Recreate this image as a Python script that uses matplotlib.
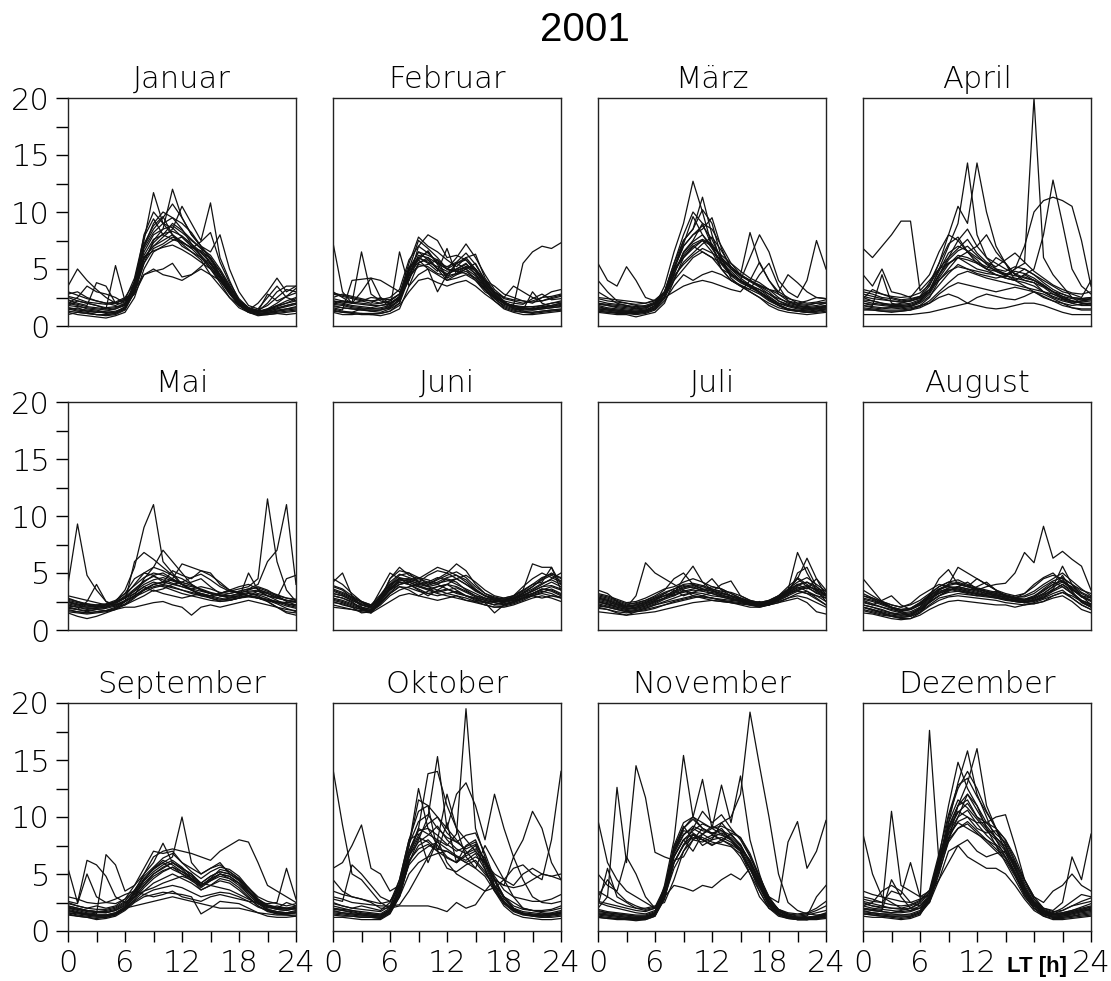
import numpy as np
import matplotlib
matplotlib.use("Agg")
import matplotlib.pyplot as plt

hours = list(range(25))
month_names = ["Januar", "Februar", "März", "April", "Mai", "Juni",
               "Juli", "August", "September", "Oktober", "November", "Dezember"]

jan = [
    [2.0, 1.8, 1.5, 1.4, 1.2, 1.3, 1.6, 3.5, 6.5, 8.0, 8.5, 8.8, 8.2, 7.5, 6.8, 5.5, 4.2, 3.0, 2.0, 1.4, 1.2, 1.3, 1.5, 1.8, 2.0],
    [1.5, 1.3, 1.2, 1.0, 1.0, 1.1, 1.5, 4.0, 7.5, 11.7, 9.0, 8.0, 7.2, 6.5, 6.0, 5.0, 3.8, 2.5, 1.6, 1.2, 1.0, 1.1, 1.3, 1.4, 1.5],
    [3.5, 5.0, 4.0, 3.2, 2.5, 2.0, 2.4, 3.0, 5.5, 7.5, 8.5, 12.0, 9.5, 8.0, 7.0, 6.0, 4.5, 3.0, 2.0, 1.5, 1.3, 2.0, 3.0, 3.5, 3.5],
    [2.5, 2.2, 2.0, 1.8, 1.5, 5.3, 2.2, 3.2, 6.0, 7.0, 7.8, 8.5, 10.5, 9.0, 7.5, 10.8, 6.0, 4.0, 2.2, 1.5, 1.2, 1.4, 1.8, 2.2, 2.5],
    [1.2, 1.0, 0.9, 0.8, 0.7, 0.9, 1.2, 2.5, 5.0, 6.5, 7.0, 7.5, 7.8, 7.0, 6.2, 5.2, 4.0, 2.8, 1.8, 1.2, 1.0, 1.0, 1.1, 1.2, 1.3],
    [2.0, 2.5, 3.5, 3.0, 2.8, 2.5, 2.0, 2.8, 4.5, 4.8, 5.0, 5.5, 4.3, 4.5, 5.0, 4.5, 4.0, 3.0, 2.0, 1.5, 1.3, 1.4, 1.6, 1.8, 2.0],
    [1.8, 2.2, 2.0, 1.8, 1.6, 1.7, 1.8, 3.0, 7.0, 9.0, 10.0, 9.5, 9.0, 8.2, 7.0, 6.5, 8.0, 5.0, 3.0, 1.8, 1.5, 2.5, 3.5, 2.5, 2.2],
    [1.6, 1.5, 1.4, 1.3, 1.1, 1.2, 1.7, 3.8, 7.0, 8.5, 9.5, 10.7, 9.5, 8.0, 7.0, 5.8, 4.5, 3.2, 2.0, 1.3, 1.1, 1.2, 1.4, 1.5, 1.6],
    [2.8, 3.0, 2.5, 2.2, 2.0, 1.8, 2.2, 3.5, 6.0, 7.0, 7.5, 8.0, 7.0, 6.5, 5.8, 4.5, 3.5, 2.5, 1.8, 1.4, 2.0, 3.0, 4.2, 3.0, 3.5],
    [1.0, 1.2, 1.1, 1.0, 0.9, 1.0, 1.4, 3.0, 5.5, 6.8, 7.2, 7.8, 7.4, 6.8, 6.0, 5.2, 4.2, 3.0, 1.8, 1.2, 0.9, 1.0, 1.1, 1.0, 1.1],
    [2.3, 2.0, 1.8, 3.8, 3.5, 2.0, 1.9, 3.6, 8.0, 10.0, 9.0, 9.5, 8.5, 7.2, 6.5, 5.5, 4.5, 3.4, 2.3, 1.6, 1.4, 1.8, 2.5, 3.2, 3.0],
    [1.4, 1.6, 1.3, 1.2, 1.3, 1.5, 1.8, 3.2, 4.5, 5.0, 4.5, 4.3, 4.0, 4.5, 5.2, 6.0, 4.8, 3.5, 2.2, 1.6, 1.3, 1.5, 1.8, 2.0, 2.2],
    [1.8, 1.7, 1.6, 1.5, 1.4, 1.5, 1.9, 3.4, 6.8, 8.2, 9.0, 8.6, 7.8, 7.0, 6.4, 5.6, 4.4, 3.1, 1.9, 1.3, 1.2, 1.4, 1.7, 2.0, 2.4],
    [2.6, 2.4, 2.1, 2.0, 1.9, 2.0, 2.3, 4.2, 7.8, 9.4, 8.0, 7.6, 7.3, 6.9, 6.6, 5.9, 4.8, 3.3, 2.1, 1.5, 1.3, 2.8, 2.2, 2.6, 2.9],
    [1.3, 1.2, 1.1, 1.0, 1.0, 1.1, 1.5, 3.0, 6.2, 7.6, 8.0, 9.0, 8.4, 7.6, 6.8, 6.2, 5.0, 3.6, 2.2, 1.4, 1.1, 1.1, 1.2, 1.3, 1.4],
    [3.0, 2.7, 2.4, 2.2, 2.0, 2.1, 2.5, 3.8, 6.0, 6.6, 6.9, 7.1, 6.7, 6.2, 5.6, 5.0, 4.0, 2.9, 1.9, 1.4, 1.2, 1.5, 2.0, 2.6, 3.3],
    [2.1, 1.9, 1.7, 1.6, 1.5, 1.6, 2.0, 3.6, 7.2, 8.8, 9.6, 8.0, 7.4, 6.8, 7.4, 8.2, 5.6, 3.8, 2.4, 1.6, 1.3, 1.3, 1.5, 1.7, 1.9],
    [1.6, 1.4, 1.3, 1.2, 1.2, 1.2, 1.6, 2.9, 5.8, 7.3, 8.1, 8.3, 7.9, 7.2, 6.1, 5.4, 4.3, 3.0, 1.9, 1.3, 1.1, 1.2, 1.3, 1.5, 1.7],
]

feb = [
    [7.3, 3.0, 2.0, 2.2, 2.0, 2.5, 2.0, 2.5, 4.5, 6.0, 6.5, 5.5, 5.0, 5.5, 5.0, 4.0, 3.0, 2.5, 2.0, 1.8, 1.5, 1.6, 1.8, 2.0, 2.2],
    [2.0, 2.2, 2.0, 6.5, 2.8, 2.2, 2.0, 2.4, 4.0, 7.0, 8.0, 7.5, 6.0, 6.2, 5.8, 5.0, 3.5, 2.5, 2.0, 1.8, 1.6, 1.5, 1.7, 1.8, 2.0],
    [1.5, 1.3, 1.2, 1.5, 1.3, 1.2, 1.5, 6.5, 3.5, 5.5, 6.0, 5.0, 4.5, 5.5, 6.0, 5.0, 4.0, 3.0, 2.2, 1.5, 1.3, 1.2, 1.3, 1.4, 1.5],
    [2.5, 2.8, 2.6, 2.4, 2.2, 2.0, 2.2, 2.8, 5.0, 7.5, 6.8, 6.0, 5.0, 6.0, 7.2, 6.0, 4.5, 3.2, 2.5, 3.5, 3.0, 2.5, 2.2, 2.4, 2.6],
    [1.2, 1.0, 1.0, 1.1, 1.0, 0.9, 1.1, 1.5, 3.5, 4.5, 5.0, 4.5, 4.0, 4.2, 4.5, 4.0, 3.2, 2.2, 1.5, 1.2, 1.0, 1.0, 1.1, 1.2, 1.3],
    [3.0, 2.5, 2.0, 3.0, 4.2, 4.0, 3.5, 3.0, 4.0, 6.0, 5.5, 4.8, 6.8, 4.5, 5.0, 5.5, 4.0, 3.5, 2.8, 2.5, 2.2, 2.0, 2.5, 3.0, 3.2],
    [1.8, 1.6, 1.5, 1.4, 1.3, 1.4, 1.6, 2.2, 4.5, 6.2, 6.0, 5.5, 5.0, 4.8, 5.2, 5.0, 3.8, 2.8, 2.0, 1.6, 1.5, 1.4, 1.5, 1.6, 1.7],
    [2.2, 2.0, 1.8, 1.7, 1.6, 1.8, 1.9, 2.5, 5.2, 5.8, 5.0, 3.0, 4.5, 5.0, 5.5, 4.5, 3.5, 2.6, 2.0, 1.8, 5.5, 6.5, 7.0, 6.8, 7.3],
    [1.4, 1.2, 1.1, 1.0, 1.0, 1.1, 1.3, 1.8, 3.0, 4.0, 4.2, 3.8, 3.5, 3.8, 4.0, 3.5, 2.8, 2.2, 1.6, 1.3, 1.2, 1.1, 1.2, 1.3, 1.4],
    [2.8, 2.6, 2.4, 2.2, 2.5, 2.4, 2.3, 2.8, 5.5, 7.8, 7.0, 6.5, 5.8, 5.2, 6.0, 6.3, 4.2, 3.0, 2.4, 2.2, 2.0, 2.2, 2.5, 2.6, 2.8],
    [1.6, 1.4, 4.0, 4.1, 4.2, 2.5, 1.5, 2.0, 5.0, 6.5, 5.8, 5.0, 4.0, 4.5, 4.8, 4.2, 3.2, 2.4, 1.8, 1.5, 1.4, 3.0, 2.0, 1.7, 1.8],
    [2.0, 1.9, 1.7, 1.6, 1.5, 1.5, 1.7, 2.3, 4.8, 6.5, 6.2, 5.8, 4.2, 5.5, 5.8, 4.8, 3.7, 2.9, 2.1, 1.7, 1.6, 1.5, 1.6, 1.8, 2.0],
    [1.9, 1.8, 1.6, 1.5, 1.5, 1.6, 1.8, 2.6, 5.0, 6.0, 5.6, 5.2, 4.8, 5.0, 5.4, 4.8, 3.6, 2.7, 2.0, 1.7, 1.6, 1.5, 1.6, 1.7, 1.9],
    [2.4, 2.2, 2.1, 2.0, 1.9, 2.0, 2.2, 2.8, 4.6, 5.6, 5.8, 5.0, 4.6, 4.9, 5.2, 4.6, 3.4, 2.6, 2.2, 2.0, 1.9, 2.4, 2.8, 2.3, 2.4],
    [1.3, 1.2, 1.2, 1.1, 1.1, 1.1, 1.3, 2.0, 4.2, 5.4, 5.2, 4.6, 4.4, 4.6, 5.0, 4.4, 3.3, 2.4, 1.7, 1.4, 1.2, 1.2, 1.3, 1.4, 1.4],
    [2.9, 2.7, 2.5, 2.3, 2.2, 2.3, 2.5, 3.2, 5.8, 7.0, 6.4, 5.6, 5.2, 5.6, 6.4, 5.4, 4.0, 3.0, 2.5, 2.3, 2.2, 2.1, 2.2, 2.5, 2.7],
    [1.7, 1.6, 1.5, 1.4, 1.4, 1.4, 1.6, 2.4, 4.8, 5.8, 6.6, 5.4, 4.2, 4.6, 5.2, 5.0, 3.9, 2.8, 1.9, 1.6, 1.4, 1.4, 1.5, 1.6, 1.7],
    [2.2, 2.1, 2.0, 1.9, 1.8, 1.8, 2.0, 2.6, 4.4, 5.2, 5.4, 5.8, 5.0, 4.8, 4.6, 4.2, 3.2, 2.5, 2.0, 1.8, 1.7, 1.7, 1.8, 2.0, 2.1],
]

mar = [
    [1.5, 1.4, 1.3, 1.2, 1.2, 1.3, 1.8, 3.5, 6.5, 9.0, 12.7, 10.0, 7.0, 5.0, 4.0, 3.5, 3.0, 2.5, 2.0, 1.6, 1.4, 1.3, 1.4, 1.5, 1.6],
    [5.5, 4.0, 3.5, 5.2, 4.0, 2.5, 2.2, 3.0, 5.0, 7.5, 8.5, 11.3, 8.0, 5.5, 4.5, 4.0, 3.5, 3.0, 2.5, 2.0, 1.8, 1.6, 1.5, 1.6, 1.8],
    [1.2, 1.1, 1.0, 1.0, 0.8, 1.0, 1.2, 2.0, 4.0, 6.0, 7.0, 7.5, 6.5, 5.0, 4.0, 3.5, 3.0, 2.5, 1.8, 1.4, 1.2, 1.1, 1.0, 1.1, 1.2],
    [2.0, 1.8, 1.6, 1.5, 1.4, 1.5, 2.0, 3.0, 5.5, 8.0, 10.0, 9.0, 7.0, 6.0, 5.0, 4.5, 8.2, 5.5, 4.0, 3.0, 2.5, 2.0, 2.2, 2.5, 2.4],
    [3.0, 2.5, 2.0, 1.8, 1.5, 1.6, 2.0, 2.5, 4.0, 5.0, 6.0, 6.5, 6.0, 5.0, 4.5, 4.0, 6.0, 8.0, 6.5, 4.0, 3.0, 2.5, 4.0, 7.5, 5.0],
    [1.8, 1.6, 1.5, 1.4, 1.3, 1.4, 1.7, 2.5, 4.5, 6.5, 7.5, 9.0, 8.5, 7.0, 5.5, 4.5, 4.0, 3.5, 3.0, 2.2, 1.8, 1.6, 1.5, 1.6, 1.7],
    [1.3, 1.2, 1.1, 1.1, 1.0, 1.1, 1.4, 2.2, 3.5, 4.5, 4.0, 4.5, 4.8, 4.5, 4.0, 3.6, 3.2, 2.8, 2.2, 1.8, 1.5, 1.3, 1.2, 1.3, 1.4],
    [2.5, 2.4, 2.3, 2.2, 2.1, 2.0, 2.2, 2.5, 3.0, 3.5, 3.8, 4.0, 3.8, 3.5, 3.2, 3.0, 4.0, 3.5, 3.2, 3.0, 4.5, 3.8, 3.0, 2.5, 2.4],
    [1.7, 1.5, 1.4, 1.3, 1.2, 1.3, 1.6, 3.0, 5.5, 7.5, 8.5, 10.2, 9.0, 6.0, 4.2, 3.5, 3.2, 4.5, 5.5, 3.5, 2.2, 1.8, 1.6, 1.5, 1.7],
    [4.0, 3.0, 2.2, 2.0, 1.8, 1.7, 2.0, 2.8, 5.0, 6.0, 6.8, 7.5, 7.0, 6.2, 5.5, 4.8, 4.2, 3.8, 3.2, 2.5, 2.0, 1.8, 1.7, 1.8, 2.0],
    [1.4, 1.3, 1.2, 1.2, 1.1, 1.2, 1.5, 2.5, 5.0, 7.0, 8.0, 8.5, 9.5, 6.8, 5.0, 4.2, 3.6, 3.0, 2.4, 1.9, 1.5, 1.3, 1.2, 1.3, 1.5],
    [2.2, 2.0, 1.9, 1.8, 1.7, 1.8, 2.1, 2.8, 4.8, 6.0, 7.0, 6.5, 6.0, 5.5, 4.8, 4.0, 3.5, 3.2, 2.8, 2.4, 2.1, 1.9, 1.8, 2.0, 2.1],
    [1.6, 1.5, 1.4, 1.3, 1.3, 1.4, 1.8, 2.8, 5.0, 7.0, 8.0, 8.8, 7.6, 5.8, 4.6, 4.0, 3.6, 3.2, 2.6, 2.0, 1.7, 1.5, 1.4, 1.5, 1.6],
    [1.9, 1.8, 1.7, 1.6, 1.5, 1.6, 1.9, 2.6, 4.2, 5.6, 6.4, 7.2, 7.8, 6.6, 5.2, 4.4, 3.9, 3.4, 2.8, 2.2, 1.9, 1.7, 1.6, 1.7, 1.8],
    [1.3, 1.2, 1.2, 1.1, 1.1, 1.2, 1.5, 2.4, 4.6, 6.4, 7.4, 8.0, 7.0, 5.4, 4.4, 3.8, 3.4, 3.0, 2.4, 1.8, 1.4, 1.3, 1.2, 1.2, 1.3],
    [2.4, 2.2, 2.1, 2.0, 1.9, 2.0, 2.3, 3.0, 4.4, 5.4, 6.2, 6.8, 6.4, 5.8, 5.0, 4.4, 4.0, 3.6, 3.2, 2.8, 2.4, 2.2, 2.0, 2.1, 2.3],
    [1.5, 1.4, 1.3, 1.3, 1.2, 1.3, 1.6, 2.6, 5.2, 7.2, 9.6, 8.0, 6.8, 5.6, 4.6, 3.9, 3.4, 2.9, 2.3, 1.8, 1.5, 1.4, 1.3, 1.4, 1.5],
    [2.0, 1.9, 1.8, 1.7, 1.6, 1.7, 2.0, 2.9, 4.9, 6.2, 7.2, 7.6, 7.2, 6.0, 5.2, 4.5, 4.0, 5.6, 4.0, 2.8, 2.2, 2.0, 1.9, 2.0, 2.0],
]

apr = [
    [6.8, 6.0, 7.0, 8.0, 9.2, 9.2, 3.1, 4.0, 5.0, 5.5, 6.0, 5.5, 5.0, 4.8, 4.5, 4.2, 4.0, 4.5, 4.0, 3.5, 3.0, 2.8, 2.5, 2.4, 2.5],
    [2.0, 1.8, 4.5, 2.0, 1.8, 1.7, 2.2, 3.0, 5.0, 7.0, 9.0, 14.3, 8.0, 6.0, 5.0, 4.5, 4.0, 3.5, 3.0, 2.5, 2.2, 2.0, 1.8, 1.9, 2.0],
    [2.5, 2.2, 2.0, 1.8, 2.0, 2.2, 2.5, 3.5, 5.5, 8.0, 10.5, 9.0, 14.3, 10.0, 7.0, 5.5, 4.5, 4.0, 3.8, 3.0, 2.5, 2.2, 2.0, 2.2, 2.4],
    [1.5, 1.4, 1.3, 1.2, 1.3, 1.4, 1.8, 2.5, 4.0, 5.0, 6.0, 6.5, 5.5, 5.0, 4.8, 4.5, 5.0, 5.5, 20.0, 6.0, 4.5, 3.5, 2.5, 2.0, 1.8],
    [2.2, 2.0, 1.9, 1.8, 1.8, 1.9, 2.2, 3.0, 4.5, 5.5, 6.0, 5.8, 5.5, 5.0, 4.5, 4.2, 4.0, 4.5, 5.0, 8.0, 12.8, 9.0, 5.0, 3.5, 2.8],
    [3.0, 2.8, 2.5, 2.4, 2.2, 2.3, 2.6, 3.2, 4.0, 4.8, 5.2, 5.0, 4.8, 4.6, 4.5, 4.3, 5.0, 7.0, 10.0, 11.0, 11.3, 11.0, 10.5, 7.5, 3.5],
    [1.0, 1.0, 1.0, 1.0, 1.0, 1.0, 1.1, 1.2, 1.4, 1.6, 1.8, 2.0, 1.8, 1.6, 1.5, 1.6, 1.8, 2.0, 2.0, 1.8, 1.5, 1.2, 1.0, 1.0, 1.0],
    [1.8, 1.6, 1.5, 1.6, 1.5, 1.6, 1.8, 2.0, 2.5, 2.8, 2.5, 2.0, 2.5, 2.8, 2.6, 2.4, 2.3, 2.6, 3.0, 2.8, 2.4, 2.0, 1.6, 1.5, 1.5],
    [4.5, 3.5, 5.0, 3.0, 2.8, 2.5, 3.5, 4.5, 6.5, 8.0, 7.5, 6.5, 7.0, 8.0, 6.5, 5.5, 4.5, 5.0, 4.5, 4.0, 3.5, 3.0, 2.8, 2.5, 4.0],
    [2.8, 2.6, 2.4, 2.2, 2.1, 2.2, 2.5, 3.0, 4.5, 6.0, 7.5, 8.5, 7.0, 6.0, 5.5, 5.0, 4.6, 4.2, 4.0, 3.6, 3.0, 2.6, 2.4, 2.3, 2.4],
    [1.6, 1.5, 1.4, 1.4, 1.4, 1.5, 1.7, 2.2, 3.0, 3.8, 4.5, 4.8, 4.5, 4.2, 4.0, 3.8, 3.6, 3.4, 3.2, 3.0, 2.8, 2.5, 2.2, 2.0, 1.9],
    [2.4, 3.2, 2.8, 2.5, 2.3, 2.4, 2.6, 3.8, 5.5, 7.2, 7.8, 6.5, 5.8, 5.0, 6.0, 5.5, 4.0, 3.8, 3.5, 3.0, 2.6, 2.3, 2.1, 2.2, 2.3],
    [2.0, 1.9, 1.8, 1.7, 1.7, 1.8, 2.1, 2.8, 4.2, 5.4, 6.2, 6.0, 5.6, 5.2, 4.9, 4.6, 4.4, 4.3, 4.0, 3.5, 3.0, 2.6, 2.2, 2.0, 2.0],
    [2.6, 2.4, 2.3, 2.2, 2.1, 2.2, 2.4, 3.2, 4.8, 6.4, 7.0, 6.6, 6.0, 5.5, 5.0, 4.8, 5.2, 5.0, 4.5, 3.8, 3.2, 2.8, 2.5, 2.4, 2.5],
    [1.8, 1.7, 1.6, 1.6, 1.6, 1.7, 2.0, 2.6, 3.6, 4.6, 5.4, 5.0, 4.6, 4.4, 4.2, 4.4, 4.8, 4.6, 4.2, 3.6, 3.0, 2.4, 2.0, 1.8, 1.8],
    [3.2, 3.0, 2.8, 2.6, 2.5, 2.6, 2.9, 3.6, 5.0, 6.0, 6.8, 7.6, 6.4, 5.6, 5.2, 5.8, 6.4, 5.6, 4.8, 4.2, 3.6, 3.2, 2.9, 2.8, 3.0],
    [1.4, 1.4, 1.3, 1.3, 1.3, 1.4, 1.6, 2.0, 2.8, 3.4, 3.8, 3.6, 3.4, 3.2, 3.0, 3.2, 3.4, 3.2, 3.0, 2.6, 2.2, 1.8, 1.6, 1.4, 1.4],
    [2.3, 2.2, 2.0, 1.9, 1.9, 2.0, 2.3, 3.0, 4.4, 5.8, 6.6, 7.0, 6.2, 5.4, 4.8, 4.4, 4.2, 4.0, 3.8, 3.4, 2.8, 2.4, 2.2, 2.1, 2.2],
]

mai = [
    [4.0, 9.3, 4.8, 3.5, 2.5, 2.2, 2.5, 3.0, 3.5, 4.0, 3.8, 3.5, 3.2, 3.0, 2.8, 2.6, 2.5, 2.6, 2.8, 3.0, 3.2, 3.0, 2.8, 2.6, 2.5],
    [2.5, 2.2, 2.0, 2.2, 2.0, 2.5, 3.5, 5.5, 9.0, 11.0, 6.0, 5.0, 4.0, 3.5, 3.2, 3.0, 3.2, 3.5, 3.3, 3.0, 2.8, 2.6, 2.4, 2.3, 2.2],
    [2.0, 1.8, 1.6, 1.8, 1.7, 2.0, 2.5, 3.0, 3.5, 3.8, 4.0, 3.8, 3.5, 3.2, 3.0, 3.0, 3.2, 3.4, 3.6, 3.8, 4.5, 11.5, 6.0, 3.5, 2.5],
    [2.6, 2.4, 2.2, 2.0, 2.2, 2.4, 3.0, 4.0, 5.0, 5.5, 5.2, 4.8, 4.5, 4.0, 3.5, 3.2, 3.0, 3.2, 3.4, 3.6, 4.0, 6.0, 7.0, 11.0, 4.0],
    [1.5, 1.2, 1.0, 1.2, 1.5, 1.8, 2.5, 6.0, 6.8, 6.2, 5.5, 4.8, 4.0, 3.5, 3.0, 2.8, 2.6, 2.8, 3.0, 3.2, 3.0, 2.5, 2.0, 1.6, 1.5],
    [2.2, 2.0, 1.8, 1.9, 2.0, 2.2, 2.5, 3.0, 4.5, 5.5, 7.0, 6.0, 5.0, 4.0, 3.5, 3.2, 3.0, 3.0, 3.2, 3.5, 3.8, 3.5, 3.0, 2.5, 2.2],
    [3.0, 2.8, 2.6, 2.4, 2.2, 2.5, 2.8, 3.2, 3.8, 4.2, 4.0, 4.5, 5.8, 5.5, 5.2, 5.0, 4.0, 3.5, 3.2, 3.0, 2.8, 2.6, 2.5, 2.4, 2.5],
    [1.8, 1.6, 1.5, 1.6, 1.7, 1.8, 2.0, 2.0, 2.2, 2.4, 2.5, 2.2, 2.0, 1.3, 2.0, 2.2, 2.0, 2.2, 2.4, 2.6, 2.4, 2.2, 2.0, 1.8, 1.7],
    [2.4, 2.2, 2.3, 2.1, 2.2, 2.5, 3.2, 4.5, 5.0, 4.8, 4.2, 5.2, 4.8, 4.5, 5.2, 4.8, 4.2, 3.5, 3.2, 3.0, 3.4, 3.0, 2.8, 2.6, 2.5],
    [2.8, 2.5, 2.2, 2.0, 2.2, 2.4, 2.8, 3.5, 4.2, 4.8, 5.0, 4.5, 4.0, 4.2, 4.5, 3.8, 3.2, 3.5, 3.8, 4.0, 3.6, 3.2, 2.8, 4.5, 4.8],
    [2.0, 1.8, 2.5, 4.0, 2.5, 2.0, 2.2, 2.6, 3.0, 3.5, 3.2, 3.0, 2.8, 3.0, 3.2, 2.8, 2.5, 2.6, 2.8, 5.0, 3.5, 3.0, 2.6, 2.2, 2.0],
    [1.6, 1.5, 1.4, 1.5, 1.6, 1.8, 2.2, 2.8, 3.5, 4.0, 4.2, 4.0, 3.8, 3.5, 3.2, 3.0, 2.8, 2.6, 2.8, 3.0, 2.8, 2.5, 2.0, 1.5, 1.3],
    [2.3, 2.1, 2.0, 2.0, 2.1, 2.3, 2.8, 3.4, 4.0, 4.4, 4.6, 4.3, 4.0, 3.8, 3.6, 3.3, 3.1, 3.0, 3.1, 3.3, 3.4, 3.2, 2.9, 2.6, 2.4],
    [1.9, 1.8, 1.7, 1.8, 1.9, 2.1, 2.5, 3.0, 3.6, 4.0, 4.2, 4.4, 4.0, 3.6, 3.4, 3.2, 3.0, 2.9, 3.0, 3.2, 3.1, 2.8, 2.4, 2.1, 1.9],
    [2.7, 2.5, 2.3, 2.2, 2.3, 2.6, 3.2, 3.9, 4.6, 5.0, 4.8, 4.4, 4.2, 4.6, 4.9, 4.4, 3.8, 3.4, 3.3, 3.4, 3.5, 3.3, 3.0, 2.8, 2.7],
    [2.1, 2.0, 1.9, 1.9, 2.0, 2.2, 2.6, 3.2, 3.8, 3.4, 3.6, 4.0, 4.2, 3.9, 3.5, 3.2, 3.0, 2.8, 2.9, 3.0, 2.9, 2.7, 2.5, 2.3, 2.1],
    [2.5, 2.3, 2.1, 2.1, 2.2, 2.4, 2.9, 3.6, 4.3, 4.7, 4.4, 4.1, 3.8, 3.6, 3.8, 3.6, 3.3, 3.2, 3.4, 3.6, 3.7, 3.4, 3.1, 2.8, 2.6],
    [1.7, 1.6, 1.5, 1.6, 1.7, 1.9, 2.3, 2.9, 3.3, 3.7, 3.9, 3.7, 3.5, 3.3, 3.1, 2.9, 2.7, 2.7, 2.8, 2.9, 2.8, 2.6, 2.3, 1.9, 1.6],
]

jun = [
    [4.2, 5.0, 3.0, 2.0, 1.5, 2.5, 4.5, 5.5, 4.8, 4.5, 4.2, 4.0, 4.5, 4.2, 3.5, 3.0, 2.8, 2.6, 2.8, 3.0, 3.5, 5.8, 5.5, 5.5, 4.0],
    [3.0, 2.8, 2.5, 1.8, 1.5, 3.0, 4.0, 4.5, 4.2, 3.8, 3.5, 3.2, 3.0, 2.8, 2.6, 2.5, 2.4, 2.5, 2.6, 2.8, 3.0, 3.2, 3.5, 3.8, 3.5],
    [2.5, 2.2, 2.0, 1.5, 1.6, 2.8, 4.5, 5.2, 5.0, 4.6, 4.0, 4.5, 5.0, 5.8, 5.2, 4.0, 3.2, 2.8, 2.5, 2.6, 2.8, 3.0, 3.2, 3.0, 2.8],
    [3.5, 3.2, 2.8, 2.5, 2.2, 2.8, 3.5, 4.0, 4.2, 4.5, 5.0, 5.5, 5.2, 4.8, 4.2, 3.5, 3.0, 2.8, 2.7, 2.8, 3.2, 3.8, 4.5, 5.0, 4.5],
    [2.0, 1.9, 1.8, 1.6, 1.5, 2.0, 2.5, 3.0, 3.2, 3.0, 2.8, 2.6, 2.8, 3.0, 2.6, 2.4, 2.2, 2.0, 2.0, 2.2, 2.5, 2.8, 3.0, 2.8, 2.5],
    [4.5, 4.0, 3.2, 2.5, 2.0, 3.5, 5.0, 4.5, 4.0, 3.5, 3.0, 3.5, 4.0, 4.5, 4.8, 4.2, 3.5, 3.0, 2.8, 3.0, 3.8, 4.5, 5.0, 4.6, 4.2],
    [2.8, 2.6, 2.3, 2.0, 1.8, 2.5, 3.5, 4.2, 4.0, 3.6, 3.2, 3.0, 3.2, 3.4, 3.0, 2.6, 2.5, 2.2, 2.5, 3.0, 3.5, 4.0, 4.2, 5.5, 3.5],
    [3.2, 3.0, 2.6, 2.2, 2.0, 3.0, 4.0, 4.8, 5.0, 4.2, 3.8, 4.0, 3.6, 3.2, 3.0, 2.8, 2.6, 2.4, 2.2, 2.4, 2.8, 3.2, 3.6, 3.4, 3.0],
    [2.2, 2.0, 1.8, 1.7, 1.6, 2.2, 3.0, 3.5, 3.8, 4.0, 3.8, 3.5, 3.2, 3.0, 2.8, 2.5, 2.2, 2.0, 2.1, 2.3, 2.6, 3.0, 3.3, 3.6, 3.2],
    [3.8, 3.5, 2.8, 2.2, 1.9, 2.6, 3.8, 4.5, 4.5, 4.2, 4.8, 5.2, 5.0, 4.5, 4.0, 3.5, 3.0, 2.6, 2.4, 2.6, 3.0, 3.5, 4.0, 4.5, 5.0],
    [2.6, 2.4, 2.1, 1.8, 1.7, 2.4, 3.2, 3.8, 3.5, 3.0, 3.4, 3.8, 4.0, 3.5, 3.0, 2.8, 2.4, 1.5, 2.2, 2.5, 2.8, 3.0, 2.8, 3.0, 2.9],
    [3.4, 3.1, 2.7, 2.3, 2.1, 2.7, 3.6, 4.4, 4.3, 4.1, 3.9, 4.2, 4.6, 4.8, 4.4, 3.6, 3.0, 2.7, 2.6, 2.8, 3.1, 3.4, 3.8, 4.2, 3.8],
    [3.0, 2.8, 2.4, 2.0, 1.8, 2.6, 3.6, 4.2, 4.0, 3.8, 3.6, 3.8, 4.0, 3.8, 3.4, 3.0, 2.7, 2.5, 2.5, 2.7, 3.0, 3.4, 3.8, 3.9, 3.6],
    [3.6, 3.3, 2.9, 2.4, 2.1, 2.8, 3.9, 4.6, 4.4, 4.0, 4.2, 4.6, 4.4, 4.0, 3.6, 3.2, 2.8, 2.6, 2.5, 2.7, 3.2, 3.6, 4.1, 4.4, 4.0],
    [2.4, 2.3, 2.0, 1.8, 1.6, 2.3, 3.2, 3.8, 3.7, 3.4, 3.2, 3.4, 3.6, 3.3, 3.0, 2.7, 2.4, 2.2, 2.2, 2.4, 2.7, 3.1, 3.4, 3.2, 2.8],
    [3.2, 3.0, 2.6, 2.2, 2.0, 2.7, 3.7, 4.3, 4.4, 4.6, 4.4, 4.1, 4.3, 4.5, 4.0, 3.4, 3.0, 2.7, 2.6, 2.8, 3.3, 3.8, 4.4, 4.8, 4.3],
    [2.7, 2.5, 2.2, 1.9, 1.7, 2.4, 3.3, 4.0, 4.2, 3.9, 3.6, 3.3, 3.5, 3.7, 3.3, 2.9, 2.6, 2.4, 2.3, 2.5, 2.9, 3.2, 3.6, 3.5, 3.1],
    [3.9, 3.6, 3.0, 2.5, 2.2, 3.1, 4.2, 4.9, 4.6, 4.3, 4.0, 4.4, 4.8, 5.1, 4.6, 3.8, 3.2, 2.9, 2.7, 2.9, 3.4, 4.0, 4.6, 4.9, 4.6],
]

jul = [
    [3.5, 3.2, 2.5, 2.0, 3.0, 5.9, 5.0, 4.5, 4.0, 3.5, 3.0, 2.8, 2.6, 2.5, 2.4, 2.3, 2.2, 2.2, 2.4, 2.8, 3.5, 4.5, 3.8, 3.2, 3.0],
    [2.5, 2.2, 2.0, 1.8, 2.0, 2.2, 2.5, 2.8, 3.2, 4.5, 5.6, 4.2, 3.5, 3.0, 2.8, 2.6, 2.4, 2.3, 2.5, 2.8, 3.2, 3.5, 3.2, 3.0, 2.8],
    [2.0, 1.8, 1.5, 1.3, 1.6, 1.8, 2.0, 2.2, 2.4, 2.6, 2.8, 3.0, 2.8, 2.6, 2.4, 2.2, 2.0, 2.0, 2.2, 2.6, 3.5, 6.8, 5.0, 3.5, 2.5],
    [2.8, 2.6, 2.3, 2.0, 2.2, 2.5, 2.8, 3.0, 3.4, 3.8, 4.0, 3.6, 3.4, 4.0, 4.3, 3.0, 2.6, 2.4, 2.5, 3.0, 3.8, 4.5, 6.3, 4.5, 3.5],
    [2.2, 2.0, 1.8, 1.6, 1.7, 1.9, 2.2, 2.4, 2.6, 2.8, 3.0, 2.9, 2.8, 2.7, 2.6, 2.5, 2.3, 2.2, 2.3, 2.5, 2.8, 3.2, 3.4, 3.0, 2.5],
    [3.0, 2.8, 2.5, 2.2, 2.4, 2.6, 3.0, 3.5, 4.5, 5.0, 4.0, 3.8, 4.5, 3.5, 3.0, 2.8, 2.5, 2.4, 2.6, 3.0, 3.5, 4.0, 4.2, 3.8, 3.2],
    [1.6, 1.5, 1.4, 1.3, 1.4, 1.5, 1.6, 1.8, 2.0, 2.2, 2.4, 2.5, 2.6, 2.5, 2.4, 2.3, 2.2, 2.1, 2.2, 2.4, 2.6, 2.8, 2.4, 1.6, 1.4],
    [2.6, 2.4, 2.2, 2.0, 2.1, 2.3, 2.6, 3.2, 3.0, 3.4, 3.6, 3.8, 3.5, 3.2, 3.0, 2.6, 2.3, 2.5, 2.2, 2.8, 3.4, 4.0, 3.6, 4.5, 3.0],
    [2.3, 2.1, 1.9, 1.7, 1.8, 2.0, 2.3, 2.7, 3.0, 3.5, 3.2, 3.0, 3.3, 3.1, 2.8, 2.5, 2.2, 2.0, 2.2, 2.7, 3.2, 3.8, 3.4, 2.8, 2.2],
    [3.2, 3.0, 2.7, 2.4, 2.5, 2.8, 3.2, 3.6, 3.8, 4.2, 4.5, 4.2, 3.8, 3.6, 3.2, 2.8, 2.5, 2.3, 2.4, 2.8, 3.2, 3.6, 3.8, 3.6, 3.4],
    [2.4, 2.3, 2.0, 1.8, 1.9, 2.1, 2.5, 2.8, 3.5, 3.0, 3.3, 3.6, 3.2, 2.9, 2.7, 2.6, 2.4, 2.2, 2.4, 2.6, 3.0, 5.0, 5.5, 3.8, 3.0],
    [2.9, 2.7, 2.4, 2.1, 2.2, 2.4, 2.7, 3.0, 3.2, 3.6, 3.8, 3.4, 3.2, 3.0, 2.9, 2.7, 2.5, 2.3, 2.5, 2.9, 3.3, 3.7, 3.9, 3.5, 3.1],
    [2.7, 2.5, 2.2, 1.9, 2.0, 2.3, 2.6, 3.0, 3.3, 3.7, 3.9, 3.6, 3.4, 3.2, 3.0, 2.7, 2.4, 2.2, 2.4, 2.8, 3.3, 3.9, 4.2, 3.6, 3.0],
    [2.1, 2.0, 1.8, 1.6, 1.7, 1.9, 2.2, 2.5, 2.8, 3.1, 3.3, 3.2, 3.0, 2.9, 2.7, 2.5, 2.3, 2.1, 2.3, 2.6, 3.0, 3.4, 3.2, 2.7, 2.2],
    [3.1, 2.9, 2.6, 2.3, 2.3, 2.6, 2.9, 3.3, 3.6, 4.0, 4.1, 3.9, 3.6, 3.4, 3.3, 3.0, 2.6, 2.4, 2.6, 3.0, 3.6, 4.2, 4.6, 4.0, 3.4],
    [2.5, 2.3, 2.1, 1.9, 1.9, 2.1, 2.4, 2.8, 3.1, 3.3, 3.5, 3.4, 3.6, 3.3, 3.0, 2.7, 2.4, 2.2, 2.3, 2.7, 3.1, 3.5, 3.7, 3.3, 2.8],
    [1.9, 1.8, 1.6, 1.5, 1.6, 1.7, 1.9, 2.2, 2.5, 2.7, 2.9, 2.9, 2.8, 2.6, 2.5, 2.4, 2.2, 2.1, 2.2, 2.4, 2.8, 3.0, 2.8, 2.4, 2.0],
    [2.8, 2.6, 2.3, 2.1, 2.2, 2.4, 2.8, 3.2, 3.6, 3.9, 3.7, 3.5, 3.8, 3.6, 3.2, 2.8, 2.5, 2.3, 2.5, 2.9, 3.4, 4.6, 4.0, 3.4, 3.0],
]

aug = [
    [2.5, 2.2, 2.0, 1.8, 1.6, 1.8, 2.2, 2.8, 3.2, 3.5, 3.8, 3.6, 3.5, 3.8, 4.0, 4.1, 5.0, 6.8, 5.9, 9.1, 6.3, 6.9, 6.2, 5.6, 3.5],
    [4.5, 3.5, 2.5, 2.0, 1.5, 1.2, 2.0, 3.0, 4.5, 5.3, 4.0, 3.8, 3.5, 3.2, 3.0, 2.8, 2.6, 2.5, 2.6, 2.8, 3.5, 4.0, 3.5, 3.0, 2.8],
    [2.0, 1.8, 1.5, 1.2, 1.0, 1.0, 1.5, 2.5, 3.5, 4.0, 5.5, 5.0, 4.5, 4.0, 3.5, 3.0, 2.8, 2.6, 2.8, 3.2, 3.8, 5.6, 4.0, 3.0, 2.2],
    [1.8, 1.6, 1.4, 1.2, 1.1, 1.2, 1.6, 2.2, 2.8, 3.0, 3.2, 3.1, 3.0, 2.9, 2.8, 2.6, 2.5, 2.4, 2.5, 2.8, 3.2, 3.5, 2.8, 2.2, 1.8],
    [3.0, 2.8, 2.5, 2.2, 2.0, 2.2, 2.6, 3.2, 3.8, 4.2, 4.0, 3.8, 4.5, 4.0, 3.5, 3.2, 3.0, 3.2, 3.8, 4.5, 4.8, 4.5, 4.0, 3.5, 3.2],
    [2.2, 2.0, 1.8, 1.5, 1.3, 1.4, 1.8, 2.5, 3.0, 3.5, 3.6, 3.4, 3.2, 3.0, 2.9, 2.7, 2.5, 2.4, 2.3, 2.5, 3.0, 3.3, 3.0, 2.5, 2.0],
    [3.5, 3.0, 2.5, 2.2, 2.0, 2.3, 3.0, 3.5, 4.0, 3.8, 3.6, 3.4, 3.8, 4.2, 3.5, 3.0, 2.8, 3.2, 4.0, 4.6, 5.0, 4.2, 3.8, 3.2, 2.8],
    [1.5, 1.4, 1.2, 1.0, 0.9, 1.0, 1.3, 1.8, 2.2, 2.5, 2.6, 2.5, 2.4, 2.3, 2.2, 2.2, 2.0, 2.2, 2.3, 2.5, 2.8, 3.0, 2.5, 1.8, 1.5],
    [2.8, 2.6, 2.3, 2.0, 1.8, 1.9, 2.4, 3.0, 3.6, 4.0, 4.2, 3.9, 3.6, 3.4, 3.2, 3.0, 2.8, 2.7, 2.9, 3.4, 4.0, 4.4, 3.6, 2.9, 2.6],
    [2.4, 2.2, 2.6, 3.0, 2.2, 1.8, 2.2, 2.8, 3.4, 3.6, 3.4, 3.2, 3.0, 3.2, 3.4, 3.0, 2.7, 2.6, 2.9, 3.6, 4.2, 3.8, 3.2, 2.6, 2.3],
    [2.0, 1.7, 1.5, 1.3, 1.2, 1.3, 1.7, 2.4, 3.0, 3.4, 3.8, 4.2, 3.6, 3.3, 3.1, 2.8, 2.6, 2.4, 2.6, 3.0, 3.6, 4.8, 3.4, 2.4, 2.0],
    [3.2, 2.8, 2.4, 2.0, 1.7, 1.8, 2.3, 3.0, 3.6, 3.8, 3.7, 3.5, 3.3, 3.1, 3.0, 2.9, 2.8, 3.0, 3.4, 4.0, 4.5, 5.0, 4.3, 3.6, 3.0],
    [2.6, 2.3, 2.0, 1.7, 1.5, 1.6, 2.0, 2.7, 3.3, 3.7, 3.8, 3.6, 3.4, 3.2, 3.1, 2.9, 2.7, 2.6, 2.8, 3.2, 3.8, 4.2, 3.6, 2.9, 2.5],
    [2.0, 1.8, 1.6, 1.4, 1.3, 1.4, 1.8, 2.4, 3.0, 3.3, 3.4, 3.3, 3.1, 3.0, 2.8, 2.7, 2.5, 2.4, 2.6, 2.9, 3.4, 3.8, 3.2, 2.5, 2.1],
    [3.0, 2.7, 2.3, 2.0, 1.8, 1.9, 2.4, 3.1, 3.8, 4.2, 4.4, 4.0, 3.7, 3.5, 3.3, 3.1, 2.9, 2.9, 3.2, 3.8, 4.3, 4.6, 4.0, 3.3, 2.9],
    [2.2, 2.0, 1.7, 1.5, 1.4, 1.5, 1.9, 2.6, 3.2, 3.6, 3.5, 3.3, 3.2, 3.0, 2.9, 2.7, 2.6, 2.5, 2.7, 3.1, 3.5, 4.0, 3.3, 2.6, 2.2],
    [2.7, 2.5, 2.2, 1.9, 1.7, 1.8, 2.2, 2.9, 3.5, 3.9, 4.1, 3.8, 3.6, 3.4, 3.2, 3.0, 2.8, 2.7, 3.0, 3.5, 4.0, 4.3, 3.7, 3.0, 2.6],
    [1.7, 1.5, 1.3, 1.2, 1.1, 1.2, 1.5, 2.1, 2.6, 2.9, 3.0, 2.9, 2.8, 2.7, 2.6, 2.4, 2.3, 2.2, 2.4, 2.7, 3.0, 3.3, 2.8, 2.2, 1.8],
]

sep = [
    [5.5, 2.5, 6.2, 5.8, 4.8, 3.0, 2.5, 3.0, 4.5, 5.5, 6.0, 6.5, 10.0, 6.0, 5.0, 5.5, 6.0, 5.0, 4.5, 3.5, 2.5, 2.0, 2.2, 2.0, 2.0],
    [2.0, 1.8, 1.6, 1.5, 6.7, 5.8, 3.5, 4.0, 5.0, 6.0, 7.7, 6.0, 5.5, 5.0, 4.2, 4.8, 5.2, 5.0, 4.5, 3.8, 2.8, 2.2, 2.0, 2.5, 2.2],
    [1.5, 1.3, 1.2, 1.1, 1.2, 1.4, 2.0, 3.0, 4.0, 5.0, 5.5, 6.0, 5.5, 5.0, 4.0, 4.5, 5.0, 4.8, 4.2, 3.5, 2.5, 1.8, 1.5, 1.4, 1.3],
    [2.5, 2.2, 2.0, 2.2, 2.0, 2.2, 2.8, 3.5, 5.0, 6.5, 7.0, 7.2, 7.0, 6.8, 6.5, 6.2, 7.0, 7.5, 8.0, 7.8, 6.0, 4.0, 3.5, 3.0, 2.5],
    [1.8, 1.6, 1.4, 1.3, 1.3, 1.5, 2.0, 2.2, 2.4, 2.6, 2.8, 3.0, 2.8, 2.6, 2.4, 2.2, 2.0, 2.0, 2.0, 1.8, 1.6, 1.5, 1.4, 1.4, 1.4],
    [2.2, 2.0, 1.8, 1.7, 1.6, 1.8, 2.2, 3.5, 4.5, 5.5, 6.2, 5.8, 5.2, 4.8, 3.8, 4.4, 5.0, 4.6, 4.2, 3.4, 2.6, 2.1, 1.9, 1.8, 2.0],
    [3.0, 2.8, 2.5, 2.4, 2.5, 2.8, 3.2, 3.5, 3.2, 3.0, 3.2, 3.5, 3.0, 2.8, 2.6, 3.0, 3.2, 3.0, 2.8, 2.6, 2.5, 2.4, 2.5, 5.5, 2.8],
    [1.6, 1.4, 1.3, 1.2, 1.2, 1.4, 1.9, 2.8, 3.8, 4.6, 5.2, 5.6, 5.0, 4.6, 3.6, 4.0, 4.6, 4.4, 3.8, 3.0, 2.2, 1.7, 1.5, 1.5, 1.6],
    [2.0, 1.9, 1.8, 1.7, 1.8, 2.0, 2.5, 3.0, 3.5, 3.8, 4.2, 4.5, 4.8, 4.5, 4.2, 4.0, 3.8, 3.6, 3.2, 2.8, 2.4, 2.2, 2.0, 2.0, 1.9],
    [1.4, 1.3, 1.2, 1.0, 1.1, 1.3, 1.8, 2.5, 3.0, 3.2, 3.4, 3.3, 3.2, 3.0, 1.5, 2.0, 2.6, 2.5, 2.4, 2.0, 1.6, 1.3, 1.2, 1.2, 1.3],
    [2.6, 2.4, 5.0, 3.0, 2.5, 2.4, 2.8, 4.0, 5.5, 7.0, 6.8, 7.0, 6.0, 5.5, 5.0, 5.5, 5.8, 5.2, 4.6, 3.8, 3.0, 2.6, 2.4, 2.2, 2.4],
    [1.9, 1.7, 1.5, 1.4, 1.4, 1.6, 2.1, 3.2, 4.2, 5.0, 5.6, 6.0, 5.4, 4.6, 4.0, 4.6, 5.0, 4.8, 4.2, 3.2, 2.4, 1.9, 1.7, 1.6, 1.8],
    [1.8, 1.6, 1.5, 1.4, 1.4, 1.6, 2.1, 3.0, 4.0, 4.8, 5.3, 5.6, 5.2, 4.6, 4.0, 4.4, 4.8, 4.6, 4.0, 3.2, 2.4, 1.9, 1.7, 1.6, 1.7],
    [2.1, 1.9, 1.7, 1.6, 1.6, 1.8, 2.3, 3.3, 4.4, 5.2, 5.8, 6.2, 5.6, 4.8, 4.2, 4.8, 5.2, 5.0, 4.4, 3.4, 2.6, 2.1, 1.9, 1.8, 2.0],
    [1.6, 1.5, 1.4, 1.3, 1.3, 1.5, 2.0, 2.7, 3.5, 4.2, 4.6, 5.0, 4.6, 4.2, 3.6, 4.0, 4.4, 4.2, 3.6, 2.9, 2.2, 1.8, 1.6, 1.5, 1.6],
    [2.4, 2.2, 2.0, 1.9, 1.9, 2.1, 2.6, 3.6, 4.8, 5.6, 6.4, 6.8, 6.0, 5.2, 4.6, 5.2, 5.6, 5.4, 4.8, 3.8, 2.8, 2.3, 2.1, 2.0, 2.2],
    [1.7, 1.6, 1.5, 1.4, 1.4, 1.5, 1.9, 2.6, 3.2, 3.6, 3.8, 4.0, 3.8, 3.4, 3.0, 3.2, 3.4, 3.3, 3.0, 2.6, 2.1, 1.8, 1.6, 1.5, 1.6],
    [2.2, 2.0, 1.8, 1.7, 1.7, 1.9, 2.4, 3.4, 4.6, 5.4, 6.0, 5.4, 5.0, 4.4, 3.9, 4.6, 5.4, 5.2, 4.6, 3.6, 2.7, 2.2, 2.0, 1.9, 2.1],
]

okt = [
    [14.2, 9.3, 5.0, 4.5, 3.5, 2.5, 2.0, 3.0, 6.0, 8.0, 10.0, 15.3, 9.0, 8.0, 7.0, 6.0, 5.0, 4.0, 3.0, 2.5, 2.0, 1.8, 1.6, 1.5, 1.5],
    [5.5, 6.0, 7.5, 9.3, 5.5, 5.0, 3.5, 4.0, 6.5, 9.0, 13.8, 14.0, 11.0, 9.0, 8.0, 7.0, 6.0, 5.0, 4.5, 4.0, 5.0, 5.5, 5.0, 4.8, 5.0],
    [2.0, 1.8, 1.6, 1.5, 1.4, 1.3, 1.8, 3.5, 7.0, 9.0, 8.5, 8.0, 7.5, 8.5, 19.5, 9.0, 6.5, 4.0, 3.0, 2.0, 1.5, 1.4, 1.3, 1.4, 1.5],
    [2.5, 2.2, 2.0, 2.2, 2.0, 1.8, 2.5, 4.5, 8.0, 10.5, 11.0, 10.0, 9.0, 12.0, 13.0, 11.0, 8.0, 12.0, 9.0, 6.5, 8.0, 10.5, 9.0, 6.0, 4.5],
    [1.5, 1.4, 1.3, 1.2, 1.2, 1.1, 1.6, 3.0, 6.0, 7.5, 8.0, 7.2, 7.0, 6.5, 6.0, 6.5, 6.0, 4.5, 3.0, 2.0, 1.5, 1.3, 1.2, 1.2, 1.3],
    [3.0, 2.8, 2.5, 2.4, 2.3, 2.2, 2.2, 2.3, 3.5, 5.0, 6.5, 8.0, 6.0, 5.0, 4.5, 4.0, 3.5, 3.8, 4.5, 5.5, 5.8, 5.0, 4.5, 8.0, 14.0],
    [1.8, 1.6, 1.5, 1.4, 1.3, 1.2, 1.8, 4.0, 7.5, 12.5, 9.0, 7.5, 6.5, 6.0, 6.8, 7.5, 5.5, 3.5, 2.5, 1.8, 1.5, 1.4, 1.3, 1.4, 1.6],
    [4.5, 3.5, 3.0, 2.8, 2.5, 2.0, 2.0, 2.2, 2.2, 2.2, 2.2, 2.0, 1.7, 2.5, 2.0, 2.3, 3.5, 4.5, 4.0, 3.8, 4.0, 4.5, 5.0, 4.8, 4.5],
    [2.2, 2.0, 1.8, 1.7, 1.6, 1.5, 2.0, 4.5, 8.0, 8.5, 6.0, 8.0, 12.0, 9.0, 6.5, 5.5, 7.5, 6.0, 4.5, 3.0, 2.0, 1.8, 1.7, 1.8, 2.0],
    [1.2, 1.2, 1.1, 1.0, 1.0, 1.0, 1.5, 3.0, 5.0, 6.0, 6.5, 6.8, 7.0, 6.5, 6.0, 5.5, 4.8, 3.5, 2.2, 1.5, 1.2, 1.1, 1.0, 1.0, 1.1],
    [2.8, 2.6, 5.8, 5.0, 4.0, 3.0, 2.6, 4.0, 7.5, 11.5, 11.0, 7.0, 9.5, 6.0, 7.5, 8.0, 6.0, 4.5, 4.0, 6.5, 4.5, 3.0, 2.5, 2.4, 2.6],
    [1.6, 1.5, 1.4, 1.3, 1.3, 1.2, 1.7, 3.2, 6.5, 8.2, 7.8, 7.0, 5.5, 5.2, 5.8, 6.2, 5.2, 3.8, 2.6, 1.9, 1.6, 1.5, 1.4, 1.5, 1.6],
    [1.7, 1.6, 1.5, 1.4, 1.4, 1.3, 1.8, 3.6, 7.0, 8.8, 9.0, 8.4, 7.6, 7.0, 7.4, 7.8, 6.0, 4.0, 2.6, 1.8, 1.5, 1.4, 1.4, 1.5, 1.6],
    [2.0, 1.9, 1.8, 1.6, 1.5, 1.4, 1.9, 3.8, 6.6, 7.8, 8.4, 9.2, 8.0, 7.2, 6.8, 7.2, 6.4, 4.4, 2.8, 2.0, 1.7, 1.6, 1.5, 1.6, 1.8],
    [1.4, 1.3, 1.3, 1.2, 1.2, 1.1, 1.6, 3.2, 6.2, 7.2, 7.6, 7.0, 6.4, 6.0, 6.6, 7.0, 5.8, 3.8, 2.4, 1.7, 1.4, 1.3, 1.2, 1.3, 1.4],
    [2.4, 2.2, 2.0, 1.9, 1.8, 1.7, 2.2, 4.2, 7.6, 9.6, 10.2, 9.0, 8.2, 7.8, 8.4, 8.6, 6.8, 4.6, 3.0, 2.2, 1.9, 1.8, 1.8, 1.9, 2.2],
    [1.9, 1.8, 1.7, 1.5, 1.5, 1.4, 1.8, 3.4, 5.8, 6.8, 7.4, 7.8, 7.2, 6.6, 6.2, 6.8, 5.4, 3.6, 2.4, 1.8, 1.5, 1.4, 1.4, 1.5, 1.7],
    [3.5, 3.2, 3.0, 2.8, 2.6, 2.4, 2.6, 3.8, 6.8, 8.4, 9.4, 10.0, 8.6, 7.8, 7.2, 7.6, 6.2, 4.8, 3.6, 3.0, 2.8, 2.6, 2.6, 2.8, 3.2],
]

nov = [
    [9.7, 6.0, 4.5, 3.5, 3.0, 2.5, 2.0, 3.5, 7.0, 9.0, 10.0, 9.5, 9.0, 8.5, 8.0, 7.0, 5.0, 3.0, 2.0, 1.5, 1.2, 1.1, 1.2, 1.3, 1.5],
    [2.0, 3.0, 12.6, 6.0, 14.5, 11.7, 6.9, 6.5, 6.2, 6.5, 8.0, 9.0, 8.5, 8.0, 7.5, 6.5, 5.0, 3.5, 2.0, 1.5, 1.2, 1.1, 1.0, 1.2, 1.4],
    [1.5, 1.4, 1.3, 1.2, 1.1, 1.2, 1.5, 4.0, 8.0, 15.4, 10.0, 9.0, 8.5, 9.0, 8.0, 7.0, 5.5, 3.5, 2.0, 1.3, 1.1, 1.0, 1.0, 1.1, 1.2],
    [1.8, 1.6, 1.5, 1.4, 1.3, 1.3, 1.6, 3.5, 7.5, 9.5, 10.0, 13.3, 9.0, 12.8, 9.5, 13.6, 8.0, 5.0, 2.5, 1.5, 1.2, 1.1, 1.1, 1.2, 1.4],
    [2.5, 2.2, 2.0, 1.8, 1.6, 1.5, 1.8, 3.0, 5.5, 7.0, 8.0, 8.5, 9.0, 9.5, 10.0, 12.0, 19.2, 14.5, 10.0, 5.0, 2.5, 1.8, 1.5, 1.4, 1.5],
    [1.2, 1.1, 1.0, 1.0, 0.9, 1.0, 1.3, 3.0, 4.0, 3.8, 3.5, 4.0, 3.8, 4.5, 5.0, 4.5, 5.5, 4.0, 2.5, 1.5, 1.2, 1.0, 1.0, 1.0, 1.1],
    [3.5, 3.0, 2.5, 2.2, 2.0, 2.0, 2.2, 2.5, 4.5, 7.0, 8.5, 8.0, 7.5, 8.0, 8.5, 7.5, 6.0, 4.5, 3.0, 2.5, 7.8, 9.6, 5.5, 7.0, 9.7],
    [1.4, 1.3, 1.2, 1.1, 1.1, 1.1, 1.4, 3.8, 7.0, 8.5, 9.0, 8.5, 8.0, 8.2, 7.8, 7.0, 5.5, 4.0, 2.4, 1.5, 1.2, 1.1, 1.1, 1.2, 1.3],
    [2.2, 5.5, 3.0, 2.5, 2.0, 1.8, 2.0, 3.5, 6.5, 8.0, 8.5, 7.5, 8.0, 9.5, 8.5, 7.5, 6.0, 4.2, 2.6, 1.8, 1.5, 1.3, 1.4, 1.6, 1.8],
    [5.0, 4.0, 3.5, 6.5, 5.0, 3.0, 2.0, 3.2, 6.0, 7.5, 9.0, 10.5, 9.5, 10.2, 9.0, 8.0, 6.5, 4.8, 3.0, 1.8, 1.4, 1.2, 1.3, 3.0, 4.0],
    [1.6, 1.5, 1.4, 1.3, 1.2, 1.2, 1.5, 3.0, 6.0, 7.5, 8.2, 8.0, 7.6, 7.8, 8.6, 8.2, 6.8, 4.8, 2.8, 1.7, 1.3, 1.1, 1.1, 1.3, 1.5],
    [1.3, 1.2, 1.1, 1.1, 1.0, 1.1, 1.4, 2.8, 6.5, 8.0, 7.0, 8.5, 9.2, 8.8, 8.0, 7.2, 6.2, 4.4, 2.6, 1.6, 1.2, 1.0, 1.0, 1.1, 1.2],
    [1.5, 1.4, 1.3, 1.2, 1.2, 1.2, 1.5, 3.2, 6.8, 8.4, 9.2, 8.8, 8.6, 8.4, 8.0, 7.2, 5.8, 4.0, 2.4, 1.5, 1.2, 1.1, 1.1, 1.2, 1.4],
    [1.9, 1.7, 1.6, 1.5, 1.4, 1.4, 1.7, 3.6, 7.4, 9.0, 9.8, 9.0, 8.6, 8.8, 8.4, 7.6, 6.0, 4.2, 2.6, 1.7, 1.4, 1.2, 1.2, 1.3, 1.6],
    [1.2, 1.1, 1.1, 1.0, 1.0, 1.0, 1.3, 2.8, 6.0, 7.6, 8.4, 8.2, 7.8, 7.6, 7.4, 6.8, 5.4, 3.8, 2.2, 1.4, 1.1, 1.0, 1.0, 1.1, 1.2],
    [2.6, 2.4, 2.2, 2.0, 1.8, 1.7, 2.0, 3.4, 6.6, 8.0, 8.8, 9.4, 9.0, 9.2, 8.8, 8.2, 6.6, 4.6, 2.9, 1.9, 1.5, 1.4, 1.5, 1.8, 2.2],
    [1.7, 1.6, 1.5, 1.4, 1.3, 1.3, 1.6, 3.4, 7.0, 8.8, 8.6, 8.0, 8.4, 8.0, 7.6, 7.0, 5.6, 3.9, 2.3, 1.5, 1.3, 1.2, 1.2, 1.3, 1.5],
    [3.0, 4.5, 3.4, 2.6, 2.2, 1.9, 2.1, 3.8, 7.2, 9.2, 8.0, 7.8, 8.2, 8.6, 8.2, 7.4, 6.2, 4.4, 2.8, 1.9, 1.6, 1.5, 1.6, 2.0, 2.6],
]

dez = [
    [8.5, 5.0, 3.0, 2.5, 2.0, 1.8, 2.0, 2.5, 5.0, 8.0, 10.0, 12.0, 11.0, 9.0, 7.5, 6.0, 4.5, 3.0, 2.0, 1.5, 1.3, 1.4, 1.6, 1.8, 2.0],
    [2.5, 2.2, 2.0, 10.5, 4.0, 3.5, 3.0, 3.0, 5.5, 9.5, 13.0, 15.8, 12.0, 10.0, 8.0, 6.5, 5.0, 3.5, 2.5, 1.8, 1.5, 1.6, 1.8, 2.0, 2.2],
    [2.0, 1.8, 1.7, 1.6, 1.8, 2.0, 2.5, 17.6, 6.0, 8.0, 11.0, 13.0, 16.0, 11.0, 9.0, 7.0, 5.0, 3.2, 2.0, 1.5, 1.2, 1.3, 1.5, 1.7, 1.8],
    [3.0, 2.8, 2.5, 3.5, 3.2, 6.0, 3.0, 3.5, 5.5, 9.0, 11.0, 11.5, 10.0, 9.5, 9.0, 8.0, 6.5, 4.5, 3.0, 2.0, 1.8, 2.5, 6.5, 4.5, 8.5],
    [1.5, 1.4, 1.3, 1.2, 1.1, 1.2, 1.5, 2.5, 4.5, 7.0, 7.5, 6.5, 6.0, 5.5, 5.5, 5.0, 4.0, 2.8, 1.8, 1.3, 1.1, 1.1, 1.2, 1.3, 1.4],
    [2.2, 2.5, 3.5, 4.0, 3.5, 2.5, 2.2, 3.0, 6.0, 10.0, 12.5, 14.0, 12.5, 10.5, 9.0, 7.5, 5.5, 3.8, 2.5, 1.8, 1.5, 1.8, 2.2, 2.4, 2.6],
    [1.8, 1.6, 1.5, 1.5, 1.4, 1.4, 1.7, 3.0, 6.5, 9.0, 10.5, 10.0, 9.5, 9.5, 10.0, 10.2, 7.5, 4.5, 2.8, 1.8, 1.5, 1.5, 1.6, 1.8, 1.9],
    [3.5, 3.2, 3.0, 2.8, 2.6, 2.5, 2.8, 3.2, 4.5, 6.0, 7.5, 8.0, 7.0, 6.5, 6.8, 7.0, 6.0, 4.5, 3.0, 2.5, 3.5, 4.0, 5.0, 4.0, 3.5],
    [1.3, 1.2, 1.2, 1.1, 1.0, 1.1, 1.4, 2.8, 5.5, 8.5, 9.5, 9.0, 8.5, 8.0, 7.5, 6.5, 5.0, 3.2, 2.0, 1.3, 1.0, 1.0, 1.1, 1.2, 1.3],
    [2.6, 2.4, 2.2, 2.0, 2.0, 2.2, 2.6, 3.4, 6.5, 11.0, 14.8, 12.5, 11.0, 9.5, 8.5, 7.8, 6.0, 4.0, 2.6, 1.9, 1.6, 2.0, 2.6, 3.2, 3.0],
    [1.6, 1.5, 1.4, 1.3, 1.3, 1.3, 1.6, 2.8, 5.8, 8.0, 9.0, 9.6, 8.8, 8.0, 7.2, 6.4, 5.0, 3.4, 2.2, 1.5, 1.2, 1.2, 1.3, 1.5, 1.6],
    [2.0, 1.9, 1.8, 4.5, 3.0, 2.0, 2.0, 3.0, 6.0, 9.5, 11.5, 10.8, 9.8, 8.8, 8.0, 7.0, 5.6, 3.8, 2.4, 1.7, 1.4, 1.5, 1.7, 1.9, 2.1],
    [1.9, 1.8, 1.7, 1.6, 1.6, 1.7, 2.0, 3.0, 6.0, 8.6, 10.0, 10.6, 9.4, 8.4, 7.6, 6.8, 5.2, 3.4, 2.2, 1.6, 1.4, 1.4, 1.5, 1.7, 1.9],
    [2.4, 2.2, 2.1, 2.0, 1.9, 2.0, 2.4, 3.4, 6.4, 9.2, 11.0, 12.0, 10.6, 9.2, 8.2, 7.4, 5.8, 3.8, 2.4, 1.7, 1.5, 1.6, 1.8, 2.1, 2.4],
    [1.5, 1.4, 1.3, 1.3, 1.2, 1.3, 1.6, 2.6, 5.2, 7.8, 9.0, 9.4, 8.6, 7.8, 7.0, 6.2, 4.8, 3.2, 2.0, 1.4, 1.2, 1.2, 1.3, 1.4, 1.5],
    [2.8, 2.6, 2.5, 2.3, 2.2, 2.3, 2.7, 3.6, 6.8, 10.2, 12.8, 13.4, 11.8, 10.4, 9.0, 8.0, 6.2, 4.2, 2.8, 2.0, 1.7, 1.8, 2.2, 2.6, 2.9],
    [1.7, 1.6, 1.5, 1.4, 1.4, 1.5, 1.8, 2.8, 5.6, 8.2, 9.6, 10.0, 9.0, 8.6, 8.8, 7.6, 5.6, 3.6, 2.3, 1.6, 1.3, 1.3, 1.4, 1.6, 1.7],
    [2.2, 2.0, 1.9, 1.8, 1.7, 1.8, 2.2, 3.2, 6.2, 8.8, 10.4, 11.2, 10.0, 9.0, 8.2, 7.2, 5.4, 3.6, 2.3, 1.7, 1.5, 1.5, 1.7, 1.9, 2.1],
]

months = [jan, feb, mar, apr, mai, jun, jul, aug, sep, okt, nov, dez]

plt.rcParams['font.family'] = ['DejaVu Sans']
thin = dict(family='DejaVu Sans', weight='light')

W, H = 1111, 981
fig = plt.figure(figsize=(W / 100, H / 100), dpi=100)

col_left = [68, 333, 598, 863]
row_top = [98, 402, 703]
size = 228

for i, (name, curves) in enumerate(zip(month_names, months)):
    r, c = divmod(i, 4)
    ax = fig.add_axes([col_left[c] / W, 1 - (row_top[r] + size) / H, size / W, size / H])
    for day in curves:
        ax.plot(hours, day, color='#111111', linewidth=0.9)
    ax.set_xlim(0, 24)
    ax.set_ylim(0, 20)
    for sp in ax.spines.values():
        sp.set_linewidth(1.0)
        sp.set_color('#222222')
    ax.set_title(name, fontsize=22, pad=7, **thin)

    if c == 0:
        ax.set_yticks(np.arange(0, 20.1, 2.5))
        ax.set_yticklabels(['0', '', '5', '', '10', '', '15', '', '20'], fontsize=22, **thin)
        ax.tick_params(axis='y', direction='out', length=9, width=1.0, pad=4)
    else:
        ax.set_yticks([])

    if r == 2:
        ax.set_xticks(np.arange(0, 24.1, 3))
        labels = ['0', '', '6', '', '12', '', '18', '', '24']
        if c == 3:
            labels[6] = ''   # "LT [h]" sits here instead
        ax.set_xticklabels(labels, fontsize=22, **thin)
        ax.tick_params(axis='x', direction='out', length=8, width=1.0, pad=5)
    else:
        ax.set_xticks([])

    if i == 11:
        ax.text(0.765, -0.155, 'LT [h]', transform=ax.transAxes, ha='center', va='center',
                fontsize=16, family='Liberation Sans', fontweight='bold')

fig.text(585 / W, 1 - 30 / H, '2001', ha='center', va='center',
         fontsize=29, family='Liberation Sans')

fig.savefig('out.png', dpi=100)
